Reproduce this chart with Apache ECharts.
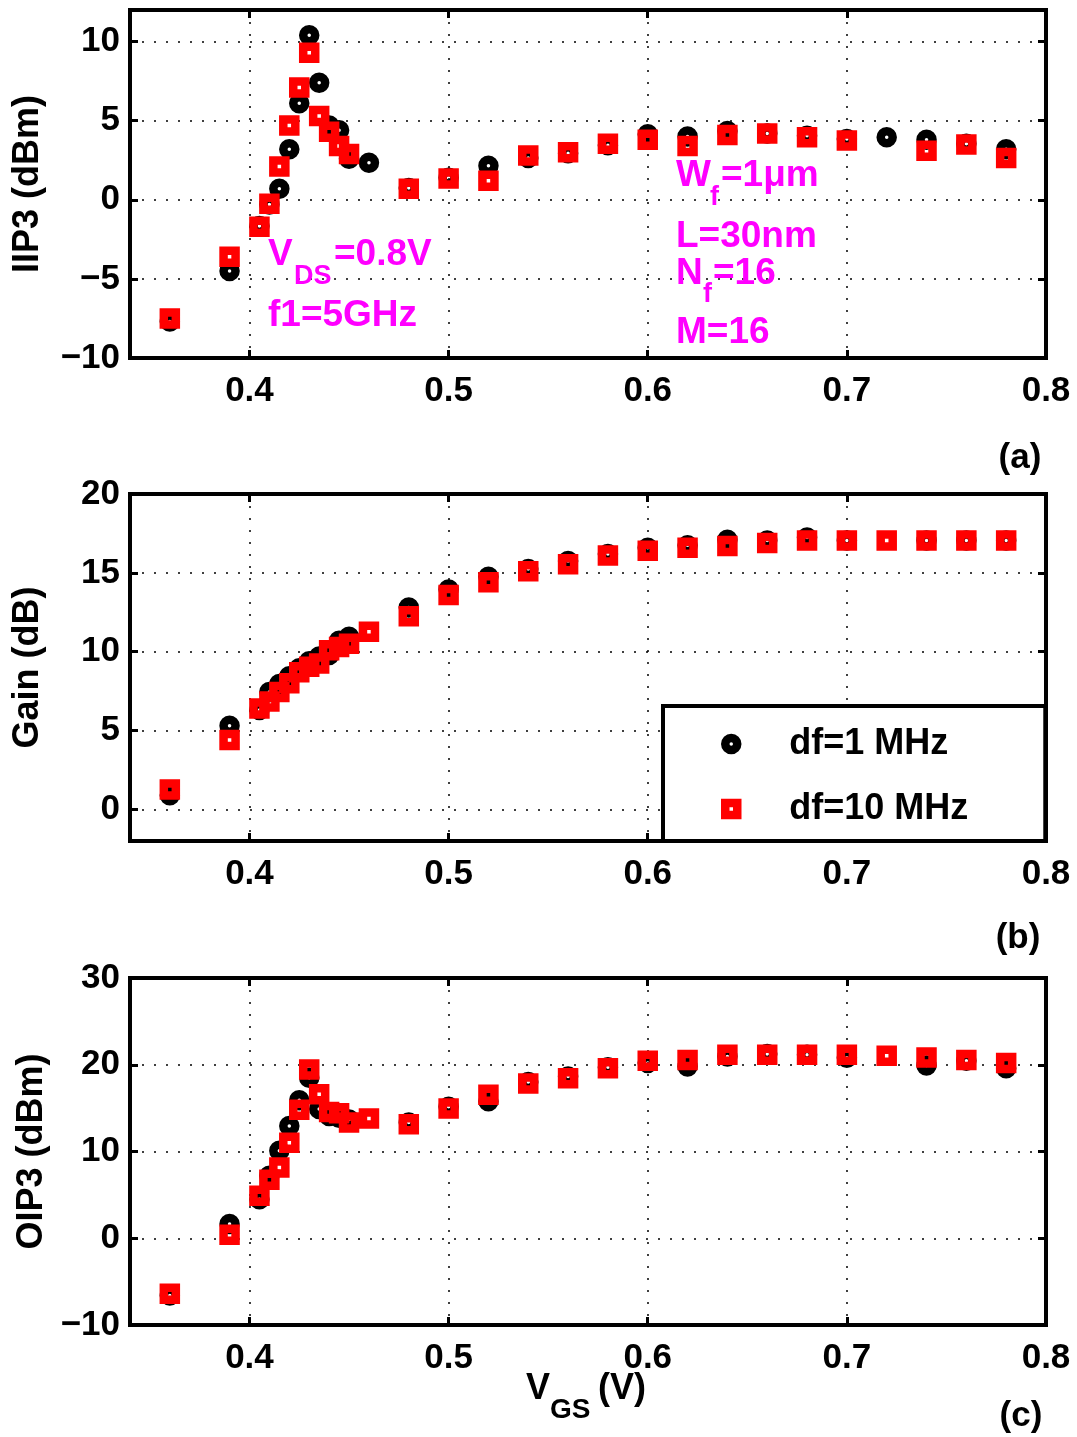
<!DOCTYPE html>
<html><head><meta charset="utf-8">
<script src="https://cdn.jsdelivr.net/npm/echarts@6/dist/echarts.min.js"></script>
<style>html,body{margin:0;padding:0;background:#fff}#c{width:1077px;height:1437px}</style>
</head><body><div id="c"></div>
<script>
// ---------------- data ----------------
const vgs = [0.36, 0.39, 0.405, 0.41, 0.415, 0.42, 0.425, 0.43, 0.435, 0.44, 0.445, 0.45, 0.46, 0.48,
             0.50, 0.52, 0.54, 0.56, 0.58, 0.60, 0.62, 0.64, 0.66, 0.68, 0.70, 0.72, 0.74, 0.76, 0.78];

const iip3_df1  = [-7.7, -4.5, -1.65, -0.3, 0.7, 3.2, 6.1, 10.4, 7.4, 4.7, 4.4, 2.6, 2.35, 0.75,
                   1.4, 2.15, 2.65, 2.95, 3.45, 4.15, 4.0, 4.35, 4.2, 4.05, 3.85, 3.95, 3.8, 3.55, 3.2];
const iip3_df10 = [-7.5, -3.6, -1.7, -0.25, 2.1, 4.7, 7.1, 9.3, 5.3, 4.3, 3.4, 2.9, null, 0.7,
                   1.35, 1.2, 2.8, 3.0, 3.55, 3.8, 3.4, 4.1, 4.2, 3.95, 3.75, null, 3.1, 3.5, 2.65];

const gain_df1  = [0.9, 5.3, 6.3, 7.45, 7.95, 8.45, 8.95, 9.4, 9.7, 9.8, 10.7, 10.95, null, 12.8,
                   13.95, 14.75, 15.25, 15.75, 16.2, 16.6, 16.75, 17.1, 17.05, 17.25, 17.05, null, 17.05, 17.05, 17.05];
const gain_df10 = [1.27, 4.4, 6.4, 6.85, 7.45, 8.0, 8.7, 9.05, 9.25, 10.1, 10.3, 10.5, 11.27, 12.25,
                   13.6, 14.4, 15.1, 15.55, 16.1, 16.4, 16.6, 16.7, 16.9, 17.05, 17.05, 17.05, 17.05, 17.05, 17.05];

const oip3_df1  = [-6.6, 1.65, 4.5, 7.2, 10.1, 12.95, 15.9, 18.5, 14.9, 14.1, 13.9, 13.7, null, 13.35,
                   15.15, 15.8, 18.0, 18.65, 19.7, 20.2, 19.8, 20.95, 21.25, 21.15, 20.8, null, 19.9, 20.45, 19.6];
const oip3_df10 = [-6.4, 0.4, 4.9, 6.75, 8.15, 11.0, 14.8, 19.45, 16.6, 14.55, 14.4, 13.35, 13.8, 13.15,
                   14.95, 16.55, 17.85, 18.45, 19.6, 20.45, 20.55, 21.15, 21.15, 21.15, 21.15, 21.05, 20.85, 20.55, 20.2];

const xTickLabels = ['0.4', '0.5', '0.6', '0.7', '0.8'];
const yTicksA = [-10, -5, 0, 5, 10];
const yTicksB = [0, 5, 10, 15, 20];
const yTicksC = [-10, 0, 10, 20, 30];
const seriesNames = ['df=1 MHz', 'df=10 MHz'];
const yNames = ['IIP3 (dBm)', 'Gain (dB)', 'OIP3 (dBm)'];

// ---------------- chart ----------------
const FONT = '"Liberation Sans", Arial, Helvetica, sans-serif';
const chart = echarts.init(document.getElementById('c'), null, {renderer: 'canvas'});

function pts(arr) {
  return vgs.map((x, i) => [x, arr[i]]).filter(d => d[1] !== null && d[1] !== undefined);
}
function fmtY(ticks) {
  return function (v) {
    const hit = ticks.find(t => Math.abs(t - v) < 1e-6);
    if (hit === undefined) return '';
    return hit < 0 ? '\u2212' + Math.abs(hit) : String(hit);
  };
}
function fmtX(v) {
  const hit = xTickLabels.find(t => Math.abs(parseFloat(t) - v) < 1e-6);
  return hit === undefined ? '' : hit;
}

const gridTops = [10, 494, 978];
const gridH = [348, 347, 347];
const yRanges = [[-10, 12], [-2, 20], [-10, 30]];
const yTickSets = [yTicksA, yTicksB, yTicksC];
const nameGaps = [84, 84, 80];

const grids = [], xAxes = [], yAxes = [], series = [];
const dotted = {color: '#000', width: 1.5, type: [2, 10]};
for (let g = 0; g < 3; g++) {
  grids.push({left: 130, right: 31, top: gridTops[g], height: gridH[g], show: true,
              borderColor: '#000', borderWidth: 4, backgroundColor: 'transparent'});
  const xBase = {type: 'value', gridIndex: g, min: 0.34, max: 0.8, splitNumber: 5};
  xAxes.push(Object.assign({}, xBase, {
    position: 'bottom',
    axisLine: {show: true, onZero: false, lineStyle: {color: '#000', width: 4}},
    axisTick: {show: true, inside: true, length: 8, lineStyle: {color: '#000', width: 3}},
    axisLabel: {show: true, margin: 16, color: '#000', fontSize: 35, fontWeight: 'bold',
                fontFamily: FONT, formatter: fmtX},
    splitLine: {show: true, lineStyle: dotted}
  }));
  xAxes.push(Object.assign({}, xBase, {
    position: 'top',
    axisLine: {show: true, onZero: false, lineStyle: {color: '#000', width: 4}},
    axisTick: {show: true, inside: true, length: 8, lineStyle: {color: '#000', width: 3}},
    axisLabel: {show: false}, splitLine: {show: false}
  }));
  const yBase = {type: 'value', gridIndex: g, min: yRanges[g][0], max: yRanges[g][1], splitNumber: 4};
  yAxes.push(Object.assign({}, yBase, {
    position: 'left',
    name: yNames[g], nameLocation: 'middle', nameRotate: 90, nameGap: nameGaps[g],
    nameTextStyle: {color: '#000', fontSize: 36, fontWeight: 'bold', fontFamily: FONT},
    axisLine: {show: true, onZero: false, lineStyle: {color: '#000', width: 4}},
    axisTick: {show: true, inside: true, length: 8, lineStyle: {color: '#000', width: 3}},
    axisLabel: {show: true, margin: 10, color: '#000', fontSize: 35, fontWeight: 'bold',
                fontFamily: FONT, formatter: fmtY(yTickSets[g])},
    splitLine: {show: true, lineStyle: dotted}
  }));
  yAxes.push(Object.assign({}, yBase, {
    position: 'right',
    axisLine: {show: true, onZero: false, lineStyle: {color: '#000', width: 4}},
    axisTick: {show: true, inside: true, length: 8, lineStyle: {color: '#000', width: 3}},
    axisLabel: {show: false}, splitLine: {show: false}
  }));
}

const blackStyle = {color: 'rgba(0,0,0,0)', borderColor: '#000', borderWidth: 8.5, opacity: 1};
const redStyle = {color: 'rgba(0,0,0,0)', borderColor: '#ff0000', borderWidth: 8.5, borderJoin: 'miter', opacity: 1};
const panelData = [[iip3_df1, iip3_df10], [gain_df1, gain_df10], [oip3_df1, oip3_df10]];
for (let g = 0; g < 3; g++) {
  series.push({name: seriesNames[0], type: 'scatter', xAxisIndex: g * 2, yAxisIndex: g * 2,
    data: pts(panelData[g][0]), symbol: 'circle', symbolSize: 12, itemStyle: blackStyle,
    emphasis: {disabled: true}, z: 2, silent: true});
  series.push({name: seriesNames[1], type: 'scatter', xAxisIndex: g * 2, yAxisIndex: g * 2,
    data: pts(panelData[g][1]), symbol: 'rect', symbolSize: 12, itemStyle: redStyle,
    emphasis: {disabled: true}, z: 3, silent: true});
}

function txt(text, x, y, size, color, align) {
  return {type: 'text', x: x, y: y, z: 100, silent: true,
    style: {text: text, fill: color, font: 'bold ' + size + 'px ' + FONT,
            align: align || 'left', verticalAlign: 'middle',
            textAlign: align || 'left', textVerticalAlign: 'middle'}};
}
const MAG = '#ff00ff';
const graphics = [
  txt('V', 268, 255, 37, MAG), txt('DS', 294, 277, 27, MAG), txt('=0.8V', 334, 255, 37, MAG),
  txt('f1=5GHz', 268, 316, 37, MAG),
  txt('W', 676, 176, 37, MAG), txt('f', 710, 198, 27, MAG), txt('=1\u03bcm', 721, 176, 37, MAG),
  txt('L=30nm', 676, 237, 37, MAG),
  txt('N', 676, 274, 37, MAG), txt('f', 703, 295, 27, MAG), txt('=16', 713, 274, 37, MAG),
  txt('M=16', 676, 333, 37, MAG),
  txt('(a)', 1020, 458, 35, '#000', 'center'),
  txt('(b)', 1018, 938, 35, '#000', 'center'),
  txt('(c)', 1021, 1416, 35, '#000', 'center'),
  txt('V', 526, 1389, 36, '#000'), txt('GS', 550, 1410, 28, '#000'), txt('(V)', 598, 1389, 36, '#000')
];

chart.setOption({
  animation: false,
  backgroundColor: '#fff',
  grid: grids, xAxis: xAxes, yAxis: yAxes, series: series,
  legend: {
    orient: 'vertical', left: 663, top: 706, padding: [20, 77, 14, 58],
    itemWidth: 12, itemHeight: 12, itemGap: 29, selectedMode: false,
    borderColor: '#000', borderWidth: 4, borderRadius: 0, backgroundColor: '#fff',
    textStyle: {color: '#000', fontSize: 36, lineHeight: 36, fontWeight: 'bold', fontFamily: FONT,
                padding: [0, 0, 0, 47]},
    data: [
      {name: seriesNames[0], icon: 'circle', itemStyle: blackStyle},
      {name: seriesNames[1], icon: 'rect', itemStyle: redStyle}
    ]
  },
  graphic: graphics
});
</script>
</body></html>
